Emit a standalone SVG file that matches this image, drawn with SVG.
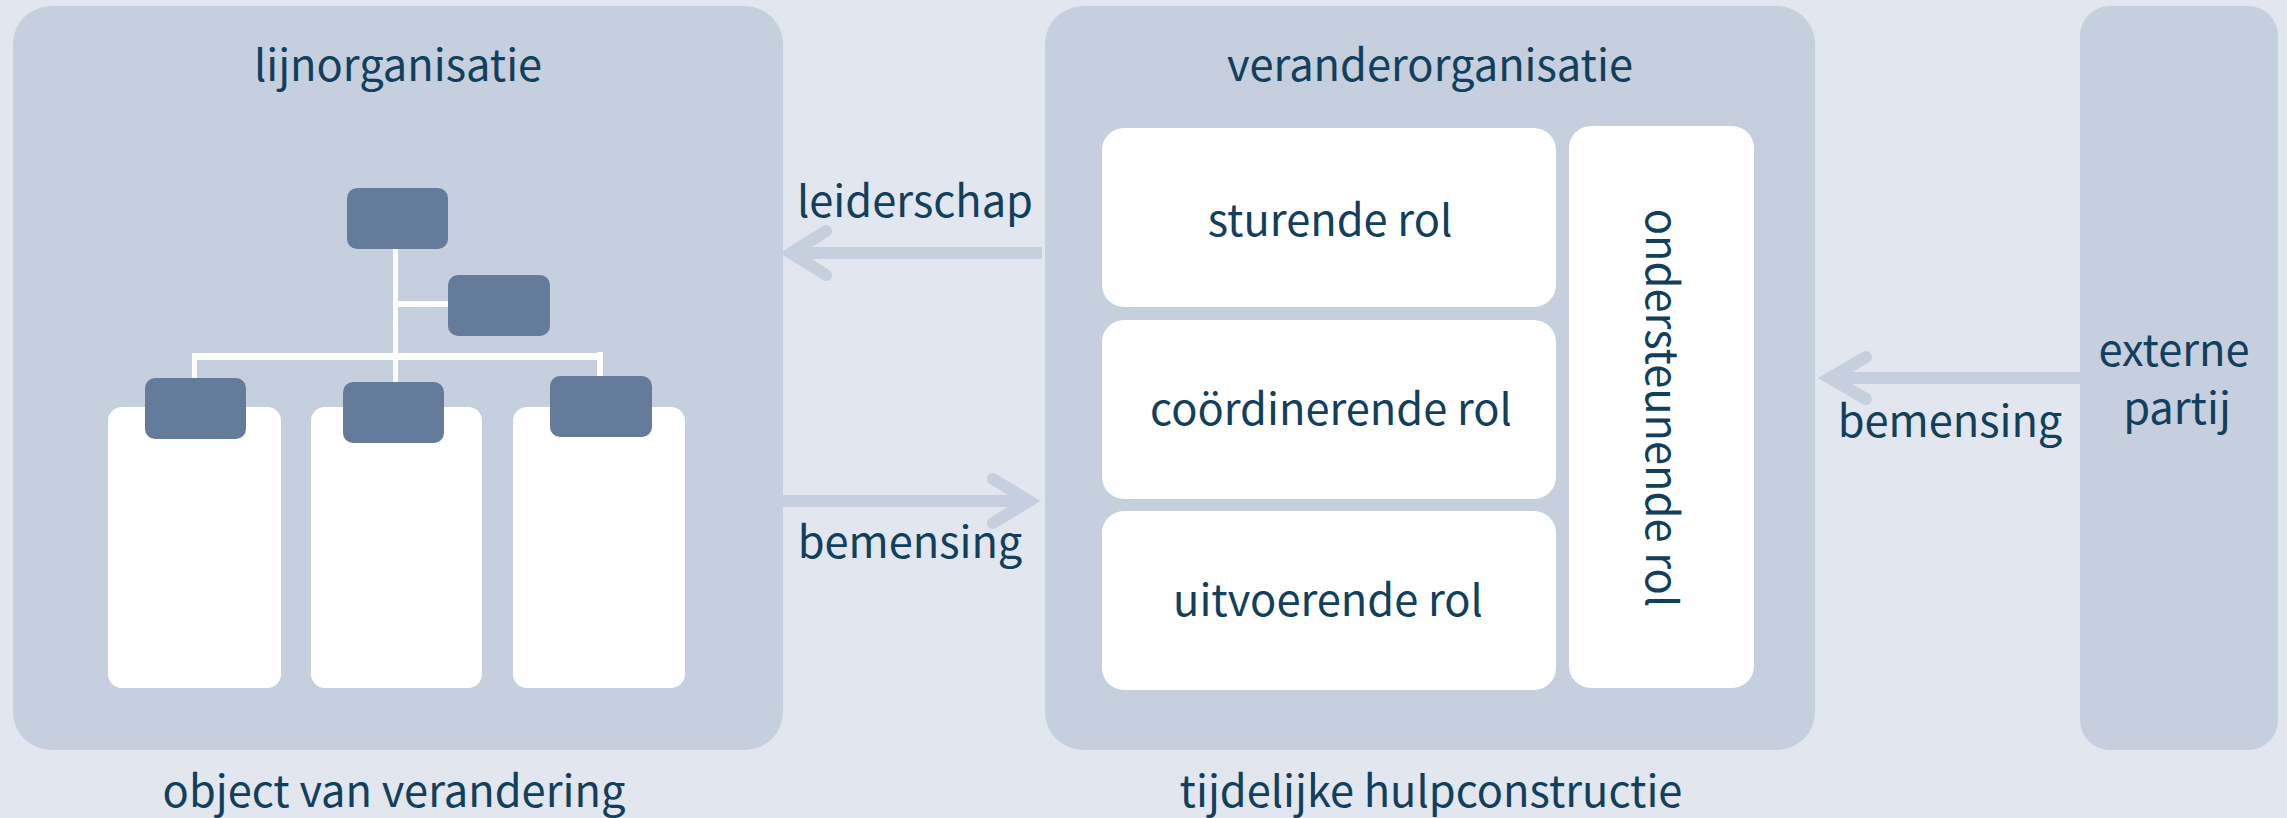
<svg xmlns="http://www.w3.org/2000/svg" width="2287" height="818" viewBox="0 0 2287 818">
<style>
.p{fill:#c5cfde}
.w{fill:#fff}
.o{fill:#647c9a}
.l{fill:#fff}
text{font-family:"Noto Sans CJK SC","Noto Sans",sans-serif;font-size:43.4px;fill:#12405c;text-anchor:middle}
.c{fill:none;stroke:#c5cfde;stroke-width:12}
.h{fill:none;stroke:#c5cfde;stroke-width:12;stroke-linecap:round;stroke-linejoin:miter}
</style>
<rect width="2287" height="818" fill="#e1e6ef"/>
<g id="connectors">
<path class="c" d="M1042 253H800"/>
<path class="h" d="M826 231L791 253L826 275"/>
<path class="c" d="M783 501H1025"/>
<path class="h" d="M993 479L1029 501L993 523"/>
<path class="c" d="M2080 378H1835"/>
<path class="h" d="M1866 357L1830 378L1866 399"/>
</g>
<g id="lijnorganisatie">
<rect class="p" x="13" y="6" width="770" height="744" rx="38"/>
<text x="398" y="81">lijnorganisatie</text>
</g>
<g id="org-lines">
<rect class="l" x="393" y="249" width="5" height="133"/>
<rect class="l" x="396" y="301" width="52" height="6"/>
<rect class="l" x="192" y="353" width="411" height="7"/>
<rect class="l" x="192" y="355" width="5" height="24"/>
<rect class="l" x="597" y="352" width="6" height="25"/>
</g>
<g id="card-1"><rect class="w" x="108" y="407" width="173" height="281" rx="14"/></g>
<g id="card-2"><rect class="w" x="311" y="407" width="171" height="281" rx="14"/></g>
<g id="card-3"><rect class="w" x="513" y="407" width="172" height="281" rx="14"/></g>
<g id="org-top"><rect class="o" x="347" y="188" width="101" height="61" rx="10"/></g>
<g id="org-staff"><rect class="o" x="448" y="275" width="102" height="61" rx="10"/></g>
<g id="org-left"><rect class="o" x="145" y="378" width="101" height="61" rx="10"/></g>
<g id="org-mid"><rect class="o" x="343" y="382" width="101" height="61" rx="10"/></g>
<g id="org-right"><rect class="o" x="550" y="376" width="102" height="61" rx="10"/></g>
<g id="veranderorganisatie">
<rect class="p" x="1045" y="6" width="770" height="744" rx="38"/>
<text x="1430" y="81">veranderorganisatie</text>
</g>
<g id="sturende-rol"><rect class="w" x="1102" y="128" width="454" height="179" rx="22"/><text x="1330" y="236">sturende rol</text></g>
<g id="coordinerende-rol"><rect class="w" x="1102" y="320" width="454" height="179" rx="22"/><text x="1331" y="425">coördinerende rol</text></g>
<g id="uitvoerende-rol"><rect class="w" x="1102" y="511" width="454" height="179" rx="22"/><text x="1328" y="616">uitvoerende rol</text></g>
<g id="ondersteunende-rol"><rect class="w" x="1569" y="126" width="185" height="562" rx="22"/><text transform="translate(1646 408) rotate(90)">ondersteunende rol</text></g>
<g id="externe-partij">
<rect class="p" x="2080" y="6" width="198" height="744" rx="30"/>
<text x="2174" y="366">externe</text>
<text x="2177" y="424">partij</text>
</g>
<text x="915" y="217">leiderschap</text>
<text x="910" y="558">bemensing</text>
<text x="1950" y="437">bemensing</text>
<text x="394" y="807">object van verandering</text>
<text x="1431" y="807">tijdelijke hulpconstructie</text>
</svg>
